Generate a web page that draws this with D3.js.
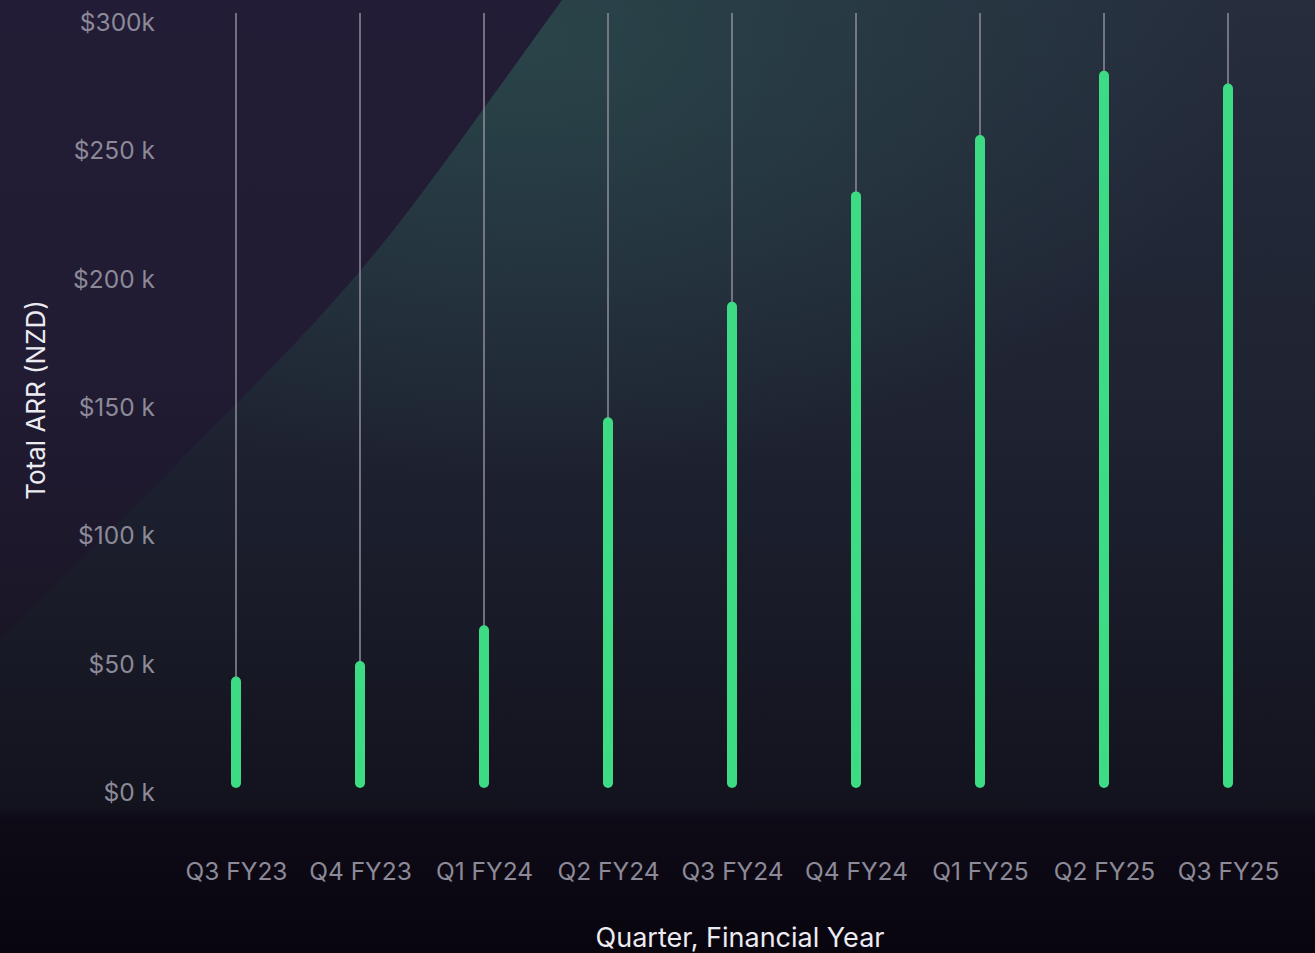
<!DOCTYPE html>
<html>
<head>
<meta charset="utf-8">
<script src="https://cdn.jsdelivr.net/npm/d3@7"></script>
<style>
	html, body { margin: 0; padding: 0; background: #0b0813; }
	svg { display: block; }
</style>
</head>
<body>
<div class="chart"></div>
<script>
// Data (values in $k)
var quarters = ['Q3 FY23', 'Q4 FY23', 'Q1 FY24', 'Q2 FY24', 'Q3 FY24', 'Q4 FY24', 'Q1 FY25', 'Q2 FY25', 'Q3 FY25'];
var arrValues = [45, 51, 65, 146, 191, 234, 256, 281, 276];
var yTickValues = [0, 50, 100, 150, 200, 250, 300];
var yTickLabels = ['$0 k', '$50 k', '$100 k', '$150 k', '$200 k', '$250 k', '$300k'];

var W = 1315, H = 953;
var barColor = '#3ddc84',
	stemColor = '#8f8d9c',
	tickColor = '#8c8a98',
	titleColor = '#ecebf2',
	fontFamily = 'Inter, "Noto Sans", sans-serif';

var x = d3.scalePoint().domain(quarters).range([236, 1228]);
var y = d3.scaleLinear().domain([0, 300]).range([792, 22]);

var svg = d3.select('.chart').append('svg')
	.attr('width', W)
	.attr('height', H)
	.attr('font-family', fontFamily);

var defs = svg.append('defs');

// background gradient, plot area then darker footer
var bg = defs.append('linearGradient').attr('id', 'bg')
	.attr('x1', 0).attr('y1', 0).attr('x2', 0).attr('y2', 1);
bg.append('stop').attr('offset', '0%').attr('stop-color', '#262d3d');
bg.append('stop').attr('offset', '45%').attr('stop-color', '#1e2231');
bg.append('stop').attr('offset', '84.5%').attr('stop-color', '#13131e');
bg.append('stop').attr('offset', '86%').attr('stop-color', '#0e0b17');
bg.append('stop').attr('offset', '100%').attr('stop-color', '#08050e');

var glow = defs.append('radialGradient').attr('id', 'glow')
	.attr('cx', 0.4).attr('cy', 0.05).attr('r', 0.55);
glow.append('stop').attr('offset', '0%').attr('stop-color', '#2a4a4c').attr('stop-opacity', 0.8);
glow.append('stop').attr('offset', '100%').attr('stop-color', '#2a4a4c').attr('stop-opacity', 0);

var purple = defs.append('linearGradient').attr('id', 'purple')
	.attr('x1', 0).attr('y1', 0).attr('x2', 0).attr('y2', 1);
purple.append('stop').attr('offset', '0%').attr('stop-color', '#221c36');
purple.append('stop').attr('offset', '60%').attr('stop-color', '#211b33');
purple.append('stop').attr('offset', '100%').attr('stop-color', '#1a1626');

svg.append('rect').attr('width', W).attr('height', H).attr('fill', 'url(#bg)');
svg.append('rect').attr('width', W).attr('height', 805).attr('fill', 'url(#glow)');

// purple wedge in the top left corner
var edge = [[0, 640], [120, 522], [230, 410], [360, 278], [470, 128], [562, 0]];
svg.append('path')
	.attr('d', d3.line().curve(d3.curveBasis)(edge) + 'L0,0Z')
	.attr('fill', 'url(#purple)');

// stems up to the top of the chart
svg.append('g').selectAll('line')
	.data(quarters)
	.join('line')
	.attr('x1', function(d) { return x(d); })
	.attr('x2', function(d) { return x(d); })
	.attr('y1', 13)
	.attr('y2', function(d, i) { return y(arrValues[i]) + 6; })
	.attr('stroke', stemColor)
	.attr('stroke-width', 1.5);

// the green bars
svg.append('g').selectAll('line')
	.data(quarters)
	.join('line')
	.attr('x1', function(d) { return x(d); })
	.attr('x2', function(d) { return x(d); })
	.attr('y1', function(d, i) { return y(arrValues[i]) + 5; })
	.attr('y2', y(0) - 9)
	.attr('stroke', barColor)
	.attr('stroke-width', 10)
	.attr('stroke-linecap', 'round');

// y axis
var yAxis = svg.append('g')
	.attr('transform', 'translate(155,0)')
	.call(d3.axisLeft(y)
		.tickValues(yTickValues)
		.tickSize(0)
		.tickPadding(0)
		.tickFormat(function(d, i) { return yTickLabels[i]; }));
yAxis.select('.domain').remove();
yAxis.selectAll('text')
	.attr('font-family', fontFamily)
	.attr('font-size', '24.5px')
	.attr('fill', tickColor)
	.attr('dy', '0.35em');

// x axis
var xAxis = svg.append('g')
	.attr('transform', 'translate(0,863)')
	.call(d3.axisBottom(x).tickSize(0).tickPadding(0));
xAxis.select('.domain').remove();
xAxis.selectAll('text')
	.attr('font-family', fontFamily)
	.attr('font-size', '24.5px')
	.attr('fill', tickColor);

// axis titles
svg.append('text')
	.attr('transform', 'translate(45,400) rotate(-90)')
	.attr('text-anchor', 'middle')
	.attr('font-size', '26px')
	.attr('fill', titleColor)
	.text('Total ARR (NZD)');
svg.append('text')
	.attr('x', 740)
	.attr('y', 947)
	.attr('text-anchor', 'middle')
	.attr('font-size', '27px')
	.attr('fill', titleColor)
	.text('Quarter, Financial Year');
</script>
</body>
</html>
